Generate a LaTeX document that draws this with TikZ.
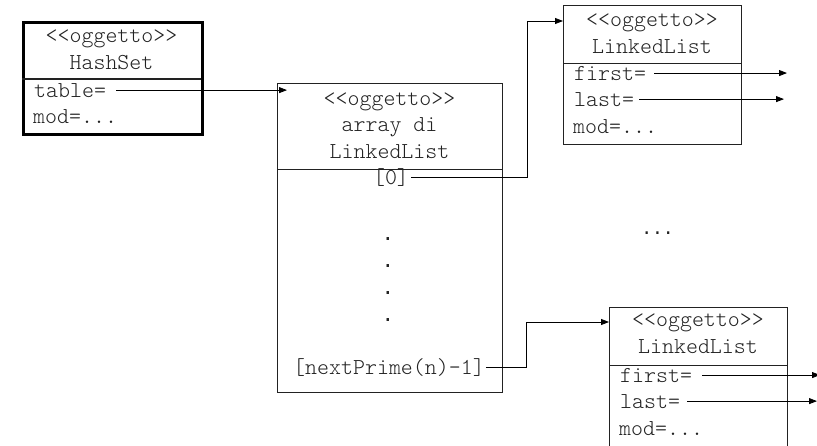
\documentclass[tikz,border=0pt]{standalone}
\usepackage{fontspec}
\setmonofont{Latin Modern Mono Light}
\newfontfamily\dotfont{DejaVu Sans Mono}
\usetikzlibrary{arrows.meta}
\definecolor{ink}{HTML}{222222}
\begin{document}
\begin{tikzpicture}[x=1pt,y=-1pt,
  font=\ttfamily\fontsize{22.8}{26}\selectfont,
  objbox/.style={draw=ink, line width=0.9pt, inner sep=0pt, anchor=north west},
  thickbox/.style={draw=black, line width=2.6pt, inner sep=0pt, anchor=north west},
  ctxt/.style={anchor=base, inner sep=0pt, text=ink},
  ltxt/.style={anchor=base west, inner sep=0pt, text=ink},
  dottxt/.style={ctxt, font=\dotfont\fontsize{20}{24}\selectfont},
  conn/.style={draw=black, line width=0.8pt},
  link/.style={conn, -{Triangle[length=8pt,width=6pt]}},
  divider/.style={draw=ink, line width=0.9pt}
]
\useasboundingbox (0,0) rectangle (817,445);

% HashSet object
\node[thickbox, minimum width=179pt, minimum height=112pt] (hs) at (22,21) {};
\draw[divider, line width=2.6pt] (22,79) -- (201,79);
\node[ctxt] (hsA) at (111.5,42) {<<oggetto>>};
\node[ctxt] (hsB) at (111.5,69) {HashSet};
\node[ltxt] (hsTable) at (34,97) {table=};
\node[ltxt] (hsMod) at (33,123) {mod=...};

% array object
\node[objbox, minimum width=225pt, minimum height=309pt] (arr) at (277,83) {};
\draw[divider] (277,169) -- (502,169);
\node[ctxt] (arA) at (389.5,105) {<<oggetto>>};
\node[ctxt] (arB) at (389.5,131) {array di};
\node[ctxt] (arC) at (389.5,158) {LinkedList};
\node[ctxt] (a0) at (391,184) {[0]};
\node[dottxt] (d1) at (388,240) {.};
\node[dottxt] (d2) at (388,267) {.};
\node[dottxt] (d3) at (388,294) {.};
\node[dottxt] (d4) at (388,321) {.};
\node[ctxt] (aN) at (389,374) {[nextPrime(n)-1]};

% LinkedList 1
\node[objbox, minimum width=178pt, minimum height=139pt] (ll1) at (563,5) {};
\draw[divider] (563,63) -- (741,63);
\node[ctxt] (l1A) at (652,26) {<<oggetto>>};
\node[ctxt] (l1B) at (652,53) {LinkedList};
\node[ltxt] (l1f) at (574,80) {first=};
\node[ltxt] (l1l) at (574,106) {last=};
\node[ltxt] (l1m) at (573,133) {mod=...};
\coordinate (l1fe) at (779,0);
\coordinate (l1le) at (779,0);

% ellipsis
\node[ctxt, font=\dotfont\fontsize{18}{22}\selectfont] (ell) at (657.5,234) {...};

% LinkedList 2
\node[objbox, minimum width=178pt, minimum height=141pt] (ll2) at (609,307) {};
\draw[divider] (609,365) -- (787,365);
\node[ctxt] (l2A) at (698,326) {<<oggetto>>};
\node[ctxt] (l2B) at (698,353) {LinkedList};
\node[ltxt] (l2f) at (620,382) {first=};
\node[ltxt] (l2l) at (620,408) {last=};
\node[ltxt] (l2m) at (619,435) {mod=...};
\coordinate (l2fe) at (810,0);
\coordinate (l2le) at (810,0);

% connectors
\coordinate (jx) at (525,0);
\draw[link] ([xshift=10pt]hsTable.east) -- ([xshift=10pt]hsTable.east -| arr.west);
\draw[link] ([xshift=2pt]a0.east) -- ([xshift=2pt]a0.east -| jx) |- ([yshift=-16pt]ll1.north west);
\draw[link] ([xshift=1pt]aN.east) -- ([xshift=1pt]aN.east -| jx) |- ([yshift=-15pt]ll2.north west);
\draw[link] ([xshift=8pt]l1f.east) -- ([xshift=8pt]l1f.east -| l1fe);
\draw[link] ([xshift=5pt]l1l.east) -- ([xshift=5pt]l1l.east -| l1le);
\draw[link] ([xshift=10pt]l2f.east) -- ([xshift=10pt]l2f.east -| l2fe);
\draw[link] ([xshift=7pt]l2l.east) -- ([xshift=7pt]l2l.east -| l2le);
\end{tikzpicture}
\end{document}
